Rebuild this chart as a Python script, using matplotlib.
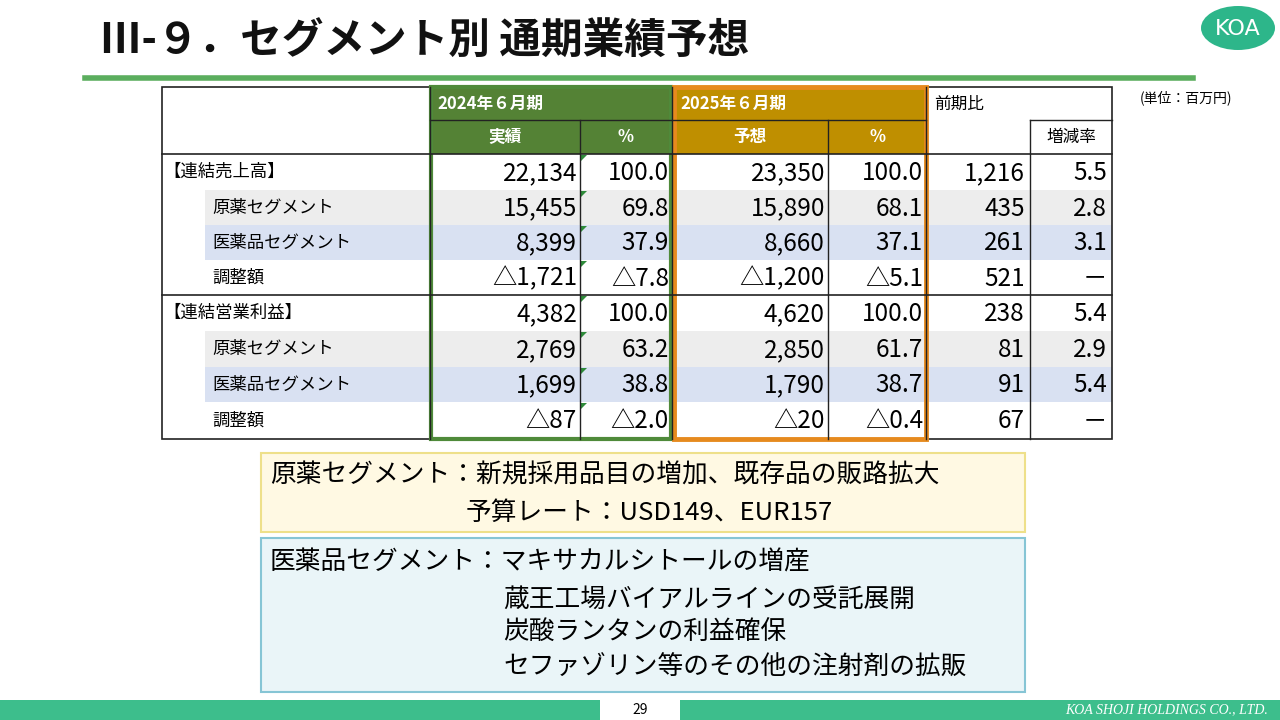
import matplotlib.pyplot as plt
from matplotlib.patches import Rectangle, Ellipse, Polygon

plt.rcParams["font.family"] = "Noto Sans CJK JP"

# Data
row_labels = ["【連結売上高】", "原薬セグメント", "医薬品セグメント", "調整額",
              "【連結営業利益】", "原薬セグメント", "医薬品セグメント", "調整額"]
actual_2024 = ["22,134", "15,455", "8,399", "△1,721", "4,382", "2,769", "1,699", "△87"]
pct_2024 = ["100.0", "69.8", "37.9", "△7.8", "100.0", "63.2", "38.8", "△2.0"]
plan_2025 = ["23,350", "15,890", "8,660", "△1,200", "4,620", "2,850", "1,790", "△20"]
pct_2025 = ["100.0", "68.1", "37.1", "△5.1", "100.0", "61.7", "38.7", "△0.4"]
diff_yoy = ["1,216", "435", "261", "521", "238", "81", "91", "67"]
rate_yoy = ["5.5", "2.8", "3.1", "－", "5.4", "2.9", "5.4", "－"]

fig = plt.figure(figsize=(12.8, 7.2), dpi=100)
ax = fig.add_axes([0, 0, 1, 1])
ax.set_xlim(0, 1280)
ax.set_ylim(720, 0)
ax.axis("off")

# Title
ax.text(100, 42, "Ⅲ-９．セグメント別 通期業績予想", fontsize=30, fontweight="bold",
        va="center", ha="left", color="#111111")
ax.plot([85, 1193], [78, 78], color="#5BAE5E", lw=4)
ax.add_patch(Ellipse((1238, 28), 74, 44, facecolor="#2DB68A", edgecolor="none"))
ax.text(1238, 29, "KOA", color="white", fontsize=16, ha="center", va="center",
        fontfamily="DejaVu Sans")
ax.text(1232, 98, "(単位：百万円)", fontsize=10, ha="right", va="center")

# Table geometry
rows_y = [154, 190, 225, 260, 295, 331, 367, 402, 439]
green, gold = "#548235", "#BF8F00"

# Header fills
ax.add_patch(Rectangle((430, 87), 242, 67, facecolor=green, edgecolor="none"))
ax.add_patch(Rectangle((672, 87), 254, 67, facecolor=gold, edgecolor="none"))

# Row shading
for i, lab in enumerate(row_labels):
    if lab == "原薬セグメント":
        ax.add_patch(Rectangle((205, rows_y[i]), 1112 - 205, rows_y[i + 1] - rows_y[i],
                               facecolor="#EDEDED", edgecolor="none"))
    elif lab == "医薬品セグメント":
        ax.add_patch(Rectangle((205, rows_y[i]), 1112 - 205, rows_y[i + 1] - rows_y[i],
                               facecolor="#D9E1F2", edgecolor="none"))

lc = "#222222"
ax.add_patch(Rectangle((162, 87), 950, 352, facecolor="none", edgecolor=lc, lw=1.2))
ax.plot([430, 926], [120, 120], color=lc, lw=1)
ax.plot([1030, 1112], [120, 120], color=lc, lw=1)
ax.plot([162, 1112], [154, 154], color=lc, lw=1.2)
ax.plot([162, 1112], [295, 295], color=lc, lw=1.2)
for x in [430, 672, 926]:
    ax.plot([x, x], [87, 439], color=lc, lw=1)
for x in [580, 828, 1030]:
    ax.plot([x, x], [120, 439], color=lc, lw=1)

# Header text
ax.text(437, 104, "2024年６月期", color="white", fontsize=12, fontweight="bold", va="center")
ax.text(680, 104, "2025年６月期", color="white", fontsize=12, fontweight="bold", va="center")
ax.text(505, 137, "実績", color="white", fontsize=12, fontweight="bold", ha="center", va="center")
ax.text(626, 137, "%", color="white", fontsize=12, fontweight="bold", ha="center", va="center")
ax.text(750, 137, "予想", color="white", fontsize=12, fontweight="bold", ha="center", va="center")
ax.text(877, 137, "%", color="white", fontsize=12, fontweight="bold", ha="center", va="center")
ax.text(934, 104, "前期比", fontsize=12, va="center")
ax.text(1071, 137, "増減率", fontsize=12, ha="center", va="center")

# Body
for i in range(len(row_labels)):
    yc = (rows_y[i] + rows_y[i + 1]) / 2
    lab = row_labels[i]
    lx = 163 if lab.startswith("【") else 212
    ax.text(lx, yc, lab, fontsize=12.5, va="center")
    vals = [actual_2024[i], pct_2024[i], plan_2025[i], pct_2025[i], diff_yoy[i], rate_yoy[i]]
    rights = [577, 669, 825, 923, 1025, 1107]
    for v, r in zip(vals, rights):
        ax.text(r, yc + 1, v, fontsize=17.5, va="center", ha="right")
    y0 = rows_y[i]
    ax.add_patch(Polygon([(581, y0 + 1), (587, y0 + 1), (581, y0 + 7)],
                         facecolor="#2E8B3A", edgecolor="none"))

# Highlight borders
ax.add_patch(Rectangle((431, 87), 240, 352, facecolor="none", edgecolor="#4F8A3A", lw=3))
ax.add_patch(Rectangle((674, 87), 252, 352, facecolor="none", edgecolor="#E68A1E", lw=3.5))

# Text boxes
fs = 18.5
ax.add_patch(Rectangle((261, 453), 764, 79, facecolor="#FFF9E3", edgecolor="#EEE08A", lw=1.5))
ax.text(270, 476, "原薬セグメント：新規採用品目の増加、既存品の販路拡大", fontsize=fs, va="center")
ax.text(466, 513, "予算レート：USD149、EUR157", fontsize=fs, va="center")

ax.add_patch(Rectangle((261, 538), 764, 154, facecolor="#EAF5F8", edgecolor="#86C5D5", lw=1.5))
ax.text(270, 562, "医薬品セグメント：マキサカルシトールの増産", fontsize=fs, va="center")
ax.text(503, 600, "蔵王工場バイアルラインの受託展開", fontsize=fs, va="center")
ax.text(503, 633, "炭酸ランタンの利益確保", fontsize=fs, va="center")
ax.text(503, 668, "セファゾリン等のその他の注射剤の拡販", fontsize=fs, va="center")

# Footer
ax.add_patch(Rectangle((0, 700), 1280, 20, facecolor="#3DBE8C", edgecolor="none"))
ax.add_patch(Rectangle((600, 700), 80, 20, facecolor="white", edgecolor="none"))
ax.text(640, 710, "29", fontsize=10, ha="center", va="center")
ax.text(1268, 710, "KOA SHOJI HOLDINGS CO., LTD.", fontsize=10, ha="right", va="center",
        color="white", fontfamily="Liberation Serif", style="italic")

fig.savefig("out.png", dpi=100)
